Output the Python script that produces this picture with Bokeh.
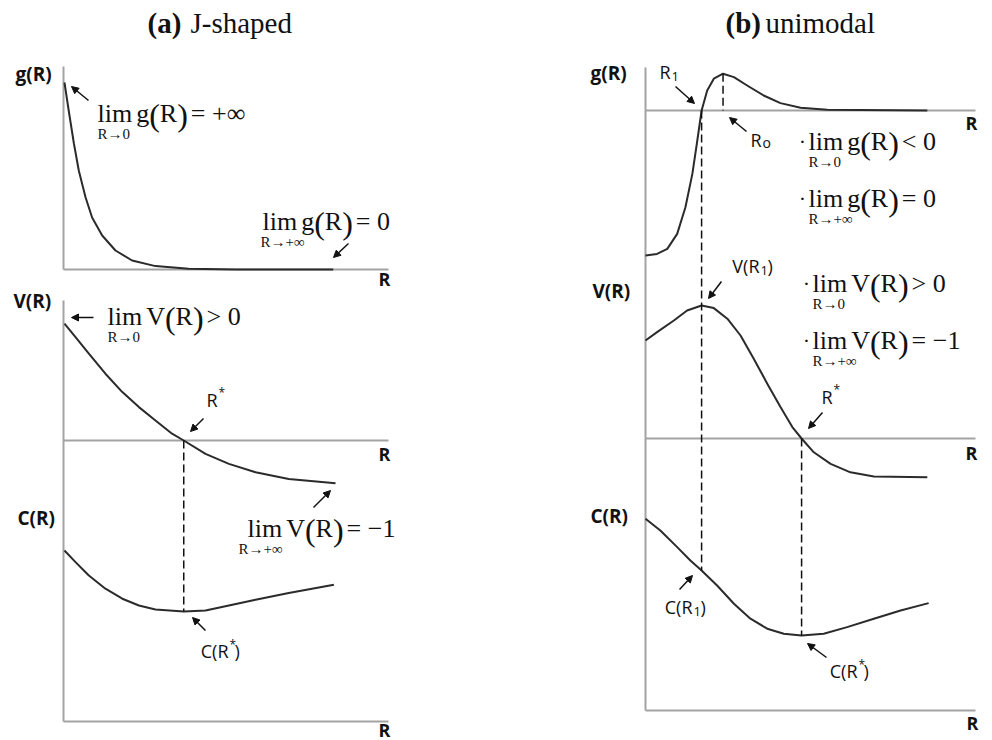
from bokeh.plotting import figure
from bokeh.models import Range1d, Arrow, NormalHead
from bokeh.core.properties import value
from bokeh.embed import file_html
from bokeh.resources import INLINE

# ---------------- (a) J-shaped : sampled curves, R in axis units (0..10) ----------------
J_R_g = [0.03, 0.16, 0.32, 0.47, 0.68, 0.88, 1.19, 1.60, 2.11, 2.83, 3.85, 5.30, 8.30]
J_g = [9.35, 7.95, 6.30, 4.95, 3.60, 2.60, 1.70, 0.95, 0.45, 0.17, 0.04, 0.00, 0.00]

J_R_v = [0.03, 0.37, 0.78, 1.29, 1.81, 2.32, 2.83, 3.34, 3.70, 4.37, 5.09, 5.91, 6.93, 8.37]
J_V = [5.84, 5.17, 4.34, 3.34, 2.42, 1.67, 1.00, 0.34, 0.00, -0.67, -1.17, -1.59, -1.92, -2.14]

J_R_c = [0.03, 0.37, 0.78, 1.29, 1.81, 2.32, 2.83, 3.70, 4.37, 5.09, 5.91, 6.93, 8.32]
J_C = [8.55, 7.97, 7.30, 6.64, 6.14, 5.80, 5.60, 5.50, 5.55, 5.80, 6.09, 6.42, 6.84]

J_R_STAR = 3.70

# ---------------- (b) unimodal ----------------
U_R_g = [0.00, 0.35, 0.66, 0.96, 1.21, 1.42, 1.57, 1.70, 1.87, 2.07, 2.35, 2.68, 3.08, 3.58,
         4.09, 4.70, 5.51, 8.54]
U_g = [-7.25, -7.17, -6.92, -6.17, -4.84, -3.17, -1.50, 0.00, 1.00, 1.59, 1.84, 1.67, 1.25,
       0.75, 0.37, 0.14, 0.04, 0.00]

U_R_v = [0.00, 0.35, 0.86, 1.26, 1.70, 2.07, 2.48, 2.88, 3.28, 3.69, 4.09, 4.45, 4.73, 5.10,
         5.61, 6.21, 6.92, 8.54]
U_V = [4.90, 5.32, 5.90, 6.40, 6.65, 6.52, 5.99, 5.15, 3.99, 2.74, 1.57, 0.57, 0.00, -0.69,
       -1.27, -1.69, -1.90, -1.94]

U_R_c = [0.00, 0.45, 0.96, 1.36, 1.70, 2.17, 2.68, 3.18, 3.69, 4.19, 4.73, 5.40, 6.11, 6.92,
         7.73, 8.58]
U_C = [9.59, 9.00, 8.17, 7.50, 7.00, 6.25, 5.34, 4.59, 4.09, 3.84, 3.75, 3.84, 4.17, 4.59,
       5.00, 5.37]

U_R1 = 1.70
U_R0 = 2.35
U_R_STAR = 4.73

# ---------------- layout ----------------
W, H = 992, 740
INK = "#111111"
CURVE = "#2b2b2b"
AXIS = "#a3a3a3"
SANS = "Open Sans"
SERIF = "Liberation Serif"

# canvas x of R = 0 and pixels per R unit, per column
COLS = {"a": (63.0, 32.5), "b": (645.0, 33.0)}
# canvas y of value 0 and pixels per value unit, per panel
ROWS = {
    "ag": (269.0, 20.0), "aV": (440.0, 20.0), "aC": (721.0, 20.0),
    "bg": (110.0, 20.0), "bV": (438.0, 20.0), "bC": (710.0, 20.0),
}
R_MAX = 10.0


def cx(col, r):
    x0, k = COLS[col]
    return x0 + k * r


def cy(panel, v):
    y0, s = ROWS[panel]
    return y0 - s * v


p = figure(width=W, height=H, x_range=Range1d(0, W), y_range=Range1d(H, 0),
           x_axis_type=None, y_axis_type=None, toolbar_location=None,
           output_backend="svg", min_border=0, outline_line_color=None,
           background_fill_color="white", border_fill_color="white")
p.grid.visible = False

p.extra_x_ranges = {c: Range1d(-x0 / k, (W - x0) / k) for c, (x0, k) in COLS.items()}
p.extra_y_ranges = {n: Range1d((y0 - H) / s, y0 / s) for n, (y0, s) in ROWS.items()}

# ---------------- axes ----------------
ax_x0, ax_y0, ax_x1, ax_y1 = [], [], [], []


def seg(x0, y0, x1, y1):
    ax_x0.append(x0); ax_y0.append(y0); ax_x1.append(x1); ax_y1.append(y1)


# column (a)
seg(cx("a", 0), 66, cx("a", 0), cy("ag", 0))
seg(cx("a", 0), 300, cx("a", 0), cy("aC", 0))
for pn in ("ag", "aV", "aC"):
    seg(cx("a", 0), cy(pn, 0), cx("a", R_MAX), cy(pn, 0))
# column (b)
seg(cx("b", 0), 67, cx("b", 0), cy("bC", 0))
for pn in ("bg", "bV", "bC"):
    seg(cx("b", 0), cy(pn, 0), cx("b", R_MAX), cy(pn, 0))

p.segment(ax_x0, ax_y0, ax_x1, ax_y1, line_color=AXIS, line_width=2)

# ---------------- curves ----------------
for col, pn, rr, vv in [("a", "ag", J_R_g, J_g), ("a", "aV", J_R_v, J_V), ("a", "aC", J_R_c, J_C),
                        ("b", "bg", U_R_g, U_g), ("b", "bV", U_R_v, U_V), ("b", "bC", U_R_c, U_C)]:
    p.line(rr, vv, x_range_name=col, y_range_name=pn, line_color=CURVE, line_width=2,
           line_join="round")

# ---------------- dashed guides ----------------
j_c_star = J_C[J_R_c.index(J_R_STAR)]
u_c_r1 = U_C[U_R_c.index(U_R1)]
u_g_r0 = U_g[U_R_g.index(U_R0)]
u_c_star = U_C[U_R_c.index(U_R_STAR)]

dx0 = [cx("a", J_R_STAR), cx("b", U_R1), cx("b", U_R0), cx("b", U_R_STAR)]
dy0 = [cy("aV", 0), cy("bg", 0), cy("bg", u_g_r0), cy("bV", 0)]
dy1 = [cy("aC", j_c_star), cy("bC", u_c_r1), cy("bg", 0), cy("bC", u_c_star)]
p.segment(dx0, dy0, dx0, dy1, line_color=INK, line_width=1.5, line_dash="8 4")


# ---------------- text helpers ----------------
def txt(x, y, s, size, font=SANS, style="normal", align="left", color=INK):
    p.text(x=[x], y=[y], text=[s], text_font=value(font), text_font_size=f"{size}px",
           text_font_style=style, text_align=align, text_baseline="middle",
           text_color=color)


ADV = {"g": 0.5, "V": 0.722, "R": 0.667}


def lim_expr(x, ym, func, rhs, sub, sub_x=None, dot=False):
    fs = 26
    txt(x, ym, "lim", fs, SERIF)
    txt(x if sub_x is None else sub_x, ym + 20, sub, 15, SERIF)
    if dot:
        txt(x - 6, ym, "·", 22, SERIF, align="center")
    xx = x + 1.334 * fs + 4
    txt(xx, ym, func, fs, SERIF)
    xx += ADV[func] * fs
    big = 32
    txt(xx, ym + 1, "(", big, SERIF)
    xx += 0.333 * big
    txt(xx, ym, "R", fs, SERIF)
    xx += 0.667 * fs
    txt(xx, ym + 1, ")", big, SERIF)
    xx += 0.333 * big + 3
    txt(xx, ym, rhs, fs, SERIF)


# titles
txt(147, 22, "(a)", 29, SERIF, style="bold")
txt(190, 22, "J-shaped", 29, SERIF)
txt(725, 22, "(b)", 29, SERIF, style="bold")
txt(765, 22, "unimodal", 29, SERIF)

# axis names
for s, x, y in [("g(R)", 15, 73), ("V(R)", 13, 300), ("C(R)", 17, 517),
                ("g(R)", 590, 72), ("V(R)", 592, 290), ("C(R)", 590, 515)]:
    txt(x, y, s, 19, SANS, style="bold")
for x, y in [(378, 278), (378, 453), (378, 729), (965, 122), (965, 452), (966, 722)]:
    txt(x, y, "R", 18, SANS, style="bold")

# limits
lim_expr(97, 113, "g", "= +∞", "R→0")
lim_expr(262, 221, "g", "= 0", "R→+∞", sub_x=260)
lim_expr(107, 316, "V", "> 0", "R→0")
lim_expr(247, 528, "V", "= −1", "R→+∞", sub_x=238)
lim_expr(808, 141, "g", "< 0", "R→0", dot=True)
lim_expr(808, 198, "g", "= 0", "R→+∞", dot=True)
lim_expr(812, 283, "V", "> 0", "R→0", dot=True)
lim_expr(812, 340, "V", "= −1", "R→+∞", dot=True)


# point labels with raised/lowered marks
def mark_label(x, y, head, mark, mark_dy, tail=None, mark_w=7, size=18, msize=12):
    txt(x, y, head, size, SANS, align="right")
    txt(x + 1, y + mark_dy, mark, msize, SANS)
    if tail:
        txt(x + 1 + mark_w, y, tail, size, SANS)


mark_label(217, 399, "R", "*", -7)
mark_label(228, 650, "C(R", "*", -6, ")", mark_w=5)
mark_label(670, 71, "R", "1", 5, msize=13)
mark_label(761, 139, "R", "o", 3, msize=14)
mark_label(759, 265, "V(R", "1", 5, ")", mark_w=7, msize=13)
mark_label(832, 396, "R", "*", -7)
mark_label(692, 606, "C(R", "1", 5, ")", mark_w=7, msize=13)
mark_label(857, 670, "C(R", "*", -6, ")", mark_w=5)

# ---------------- arrows ----------------
ARROWS = [
    (88, 100, 71, 86), (348, 243, 333, 257), (93, 317, 71, 317), (203, 418, 190, 431),
    (313, 507, 330, 490), (205, 630, 192, 617),
    (675, 86, 694, 103), (746, 131, 729, 117), (721, 281, 708, 298), (822, 412, 808, 428),
    (679, 589, 692, 575), (826, 657, 807, 643),
]
for xs, ys, xe, ye in ARROWS:
    p.add_layout(Arrow(end=NormalHead(size=7, fill_color=INK, line_color=INK, line_width=1),
                       x_start=xs, y_start=ys, x_end=xe, y_end=ye,
                       line_color=INK, line_width=1.5))

open("out.html", "w").write(file_html(p, INLINE))
